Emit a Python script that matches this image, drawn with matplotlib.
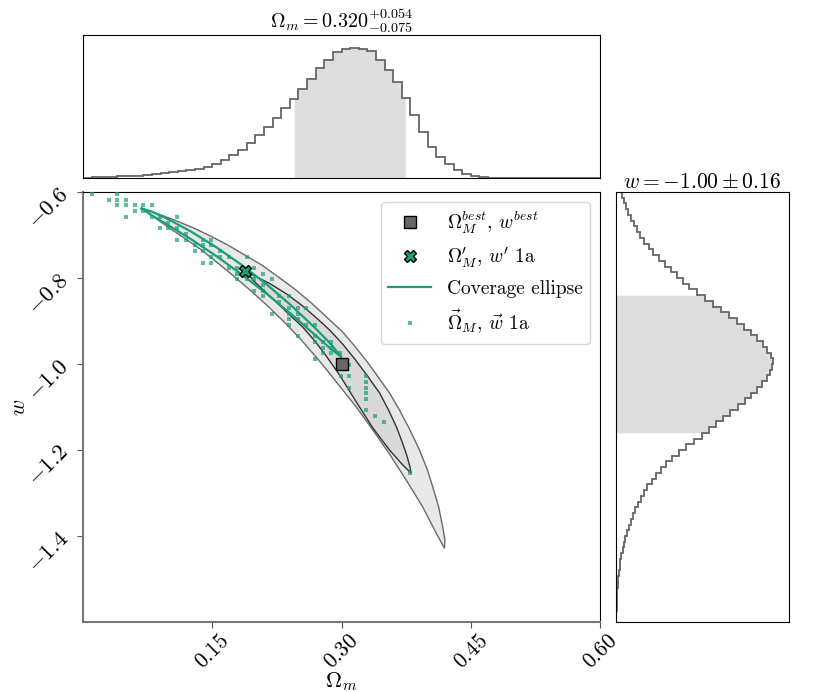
import numpy as np
import matplotlib
matplotlib.use('Agg')
import matplotlib.pyplot as plt
from matplotlib.lines import Line2D

plt.rcParams['mathtext.fontset'] = 'cm'
plt.rcParams['font.family'] = 'serif'
plt.rcParams['font.serif'] = ['cmr10', 'DejaVu Serif']
plt.rcParams['axes.formatter.use_mathtext'] = True

# ---------------- data ----------------
GREEN = '#1b9e77'

# top marginal histogram of Omega_m (60 bins on [0, 0.6])
om_edges_range = (0.0, 0.6)
om_nbins = 60
om_hist = [0.5, 0.8, 1.0, 1.3, 1.6, 2.0, 2.5, 3.2, 4.0, 4.8,
           5.7, 6.8, 8.0, 9.5, 11.5, 14.5, 18.5, 23, 28, 34.7,
           43, 51, 60, 70, 79, 89, 99, 110, 118, 126,
           129, 130.3, 129.7, 127, 118, 108, 96, 80, 63, 46,
           31, 21, 14, 8, 4, 2, 1, 0.5, 0.3, 0.1,
           0, 0, 0, 0, 0, 0, 0, 0, 0, 0]
om_best, om_plus, om_minus = 0.320, 0.054, 0.075

# right marginal histogram of w (75 bins on [-1.6, -0.6])
w_edges_range = (-1.6, -0.6)
w_nbins = 75
w_hist = [0.3, 0.4, 0.6, 0.8, 1.1, 1.5, 1.9, 2.4, 3.0, 3.6,
          4.5, 5.5, 6.6, 8.0, 9.4, 11.0, 12.8, 14.6, 16.7, 19.0,
          21.6, 24.6, 28, 31.5, 36, 40.5, 45, 50.5, 56.5, 63,
          70, 78, 86, 93, 100, 107, 114, 122, 129, 135,
          141, 146, 151, 154, 156.5, 157.3, 155, 151, 147, 141,
          135, 128, 121, 113, 105, 97, 89, 81, 73, 67,
          61, 55, 49, 43, 37.5, 33, 28.5, 24.5, 21, 18,
          15, 12.5, 10, 8, 6]
w_best, w_err = -1.00, 0.16

# 2D credible contours (outline): upper-right and lower-left edges
outer_up_om = [0.0680, 0.0892, 0.1101, 0.1298, 0.1491, 0.1680, 0.1877, 0.2074, 0.2260,
               0.2457, 0.2650, 0.2827, 0.3013, 0.3152, 0.3291, 0.3418, 0.3557, 0.3673,
               0.3789, 0.3905, 0.3998, 0.4059, 0.4125, 0.4175, 0.4200, 0.4195]
outer_up_w = [-0.6379, -0.6523, -0.6686, -0.6849, -0.7035, -0.7233, -0.7465, -0.7698, -0.7965,
              -0.8256, -0.8581, -0.8907, -0.9256, -0.9581, -0.9930, -1.0279, -1.0674, -1.1070,
              -1.1512, -1.2000, -1.2465, -1.2860, -1.3302, -1.3791, -1.4093, -1.4286]
outer_lo_om = [0.0680, 0.0776, 0.0985, 0.1182, 0.1375, 0.1564, 0.1761, 0.1958, 0.2144,
               0.2341, 0.2534, 0.2654, 0.2793, 0.2978, 0.3172, 0.3364, 0.3557, 0.3751,
               0.3943, 0.4098, 0.4195]
outer_lo_w = [-0.6379, -0.6512, -0.6814, -0.7081, -0.7349, -0.7651, -0.7977, -0.8314, -0.8651,
              -0.9035, -0.9442, -0.9721, -1.0047, -1.0512, -1.1000, -1.1535, -1.2093, -1.2698,
              -1.3326, -1.3930, -1.4286]

inner_up_om = [0.1900, 0.1970, 0.2167, 0.2364, 0.2549, 0.2723, 0.2862, 0.3013, 0.3163,
               0.3302, 0.3442, 0.3546, 0.3638, 0.3708, 0.3760, 0.3795, 0.3806]
inner_up_w = [-0.7849, -0.7930, -0.8128, -0.8372, -0.8651, -0.8953, -0.9209, -0.9535, -0.9907,
              -1.0279, -1.0674, -1.1070, -1.1465, -1.1837, -1.2140, -1.2395, -1.2535]
inner_lo_om = [0.1900, 0.1970, 0.2167, 0.2364, 0.2549, 0.2700, 0.2839, 0.2978, 0.3172,
               0.3364, 0.3557, 0.3711, 0.3806]
inner_lo_w = [-0.7849, -0.8047, -0.8419, -0.8791, -0.9140, -0.9488, -0.9860, -1.0256, -1.0884,
              -1.1488, -1.2000, -1.2349, -1.2535]

# coverage ellipse outline
ell_om = [0.0680, 0.0796, 0.0970, 0.1260, 0.1549, 0.1839, 0.2129, 0.2418, 0.2708, 0.2882, 0.2998]
ell_w_up = [-0.6384, -0.6455, -0.6614, -0.6927, -0.7287, -0.7693, -0.8143, -0.8641, -0.9190, -0.9551, -0.9836]
ell_w_lo = [-0.6384, -0.6541, -0.6747, -0.7106, -0.7493, -0.7913, -0.8363, -0.8844, -0.9350, -0.9659, -0.9836]

# best fit and primed point
best_om, best_w = 0.300, -1.000
prime_om, prime_w = 0.188, -0.783

# scattered points (Omega_M, w) 1a
pts_om = [0.010, 0.040,
          0.030, 0.040, 0.050,
          0.040, 0.050, 0.060, 0.070, 0.080,
          0.060, 0.070,
          0.050, 0.080, 0.089, 0.109,
          0.099,
          0.089, 0.099, 0.109,
          0.119,
          0.109, 0.119, 0.139, 0.149,
          0.130, 0.139, 0.149,
          0.130, 0.139, 0.159,
          0.149, 0.159, 0.169, 0.190,
          0.139, 0.149,
          0.169, 0.179, 0.199,
          0.179, 0.209,
          0.179, 0.190, 0.199, 0.219,
          0.209,
          0.199, 0.209,
          0.209, 0.228, 0.239,
          0.228,
          0.239, 0.249, 0.259,
          0.219, 0.239, 0.249,
          0.239, 0.249,
          0.239, 0.259, 0.269,
          0.249, 0.269,
          0.269, 0.279, 0.288,
          0.279, 0.288,
          0.279, 0.288, 0.298,
          0.269,
          0.309,
          0.299, 0.309, 0.329,
          0.329,
          0.309, 0.329,
          0.329, 0.329, 0.329,
          0.339, 0.349, 0.379]
pts_w = [-0.605, -0.605,
         -0.618, -0.618, -0.618,
         -0.631, -0.631, -0.631, -0.631, -0.631,
         -0.644, -0.644,
         -0.657, -0.657, -0.657, -0.657,
         -0.671,
         -0.684, -0.684, -0.684,
         -0.697,
         -0.711, -0.711, -0.711, -0.711,
         -0.724, -0.724, -0.724,
         -0.737, -0.737, -0.737,
         -0.750, -0.750, -0.750, -0.750,
         -0.764, -0.764,
         -0.777, -0.777, -0.777,
         -0.790, -0.790,
         -0.803, -0.803, -0.803, -0.803,
         -0.816,
         -0.830, -0.830,
         -0.843, -0.843, -0.843,
         -0.856,
         -0.869, -0.869, -0.869,
         -0.883, -0.883, -0.883,
         -0.896, -0.896,
         -0.909, -0.909, -0.909,
         -0.935, -0.935,
         -0.949, -0.949, -0.949,
         -0.962, -0.962,
         -0.975, -0.975, -0.975,
         -0.988,
         -1.002,
         -1.028, -1.028, -1.028,
         -1.041,
         -1.055, -1.055,
         -1.068, -1.081, -1.107,
         -1.121, -1.134, -1.253]

x_ticks = [0.15, 0.30, 0.45, 0.60]
y_ticks = [-0.6, -0.8, -1.0, -1.2, -1.4]

# ---------------- figure ----------------
W, H = 830, 692
fig = plt.figure(figsize=(W / 100, H / 100), dpi=100)

def rect(l, t, r, b):
    return [l / W, 1 - b / H, (r - l) / W, (b - t) / H]

ax = fig.add_axes(rect(83, 192, 600, 622))
ax_top = fig.add_axes(rect(83, 35, 600, 178))
ax_r = fig.add_axes(rect(616, 192, 789, 622))

HCOL = '#666666'
SHADE = '#dedede'

# top histogram
om_edges = np.linspace(*om_edges_range, om_nbins + 1)
om_h = np.array(om_hist, dtype=float)
lo, hi = om_best - om_minus, om_best + om_plus
xs = np.linspace(lo, hi, 600)
idx = np.clip(np.searchsorted(om_edges, xs, side='right') - 1, 0, om_nbins - 1)
ax_top.fill_between(xs, 0, om_h[idx], color=SHADE, lw=0)
ax_top.stairs(om_h, om_edges, color=HCOL, lw=1.3)
ax_top.set_xlim(*om_edges_range)
ax_top.set_ylim(0, 1.1 * om_h.max())
ax_top.set_xticks([]); ax_top.set_yticks([])
ax_top.set_title(r'$\Omega_m = %.3f^{+%.3f}_{-%.3f}$' % (om_best, om_plus, om_minus),
                 fontsize=14.5, pad=2)

# right histogram
w_edges = np.linspace(*w_edges_range, w_nbins + 1)
w_h = np.array(w_hist, dtype=float)
wlo, whi = w_best - w_err, w_best + w_err
ys = np.linspace(wlo, whi, 600)
idy = np.clip(np.searchsorted(w_edges, ys, side='right') - 1, 0, w_nbins - 1)
ax_r.fill_betweenx(ys, 0, w_h[idy], color=SHADE, lw=0)
ax_r.stairs(w_h, w_edges, orientation='horizontal', color=HCOL, lw=1.3)
ax_r.set_ylim(*w_edges_range)
ax_r.set_xlim(0, 1.1 * w_h.max())
ax_r.set_xticks([]); ax_r.set_yticks([])
ax_r.set_title(r'$w = %.2f \pm %.2f$' % (w_best, w_err), fontsize=15.5, pad=2)

# main panel: contours
outer_x = np.r_[outer_up_om, outer_lo_om[::-1]]
outer_y = np.r_[outer_up_w, outer_lo_w[::-1]]
ax.fill(outer_x, outer_y, facecolor='#e8e8e8', edgecolor='#6a6a6a', lw=1.0, zorder=1)
inner_x = np.r_[inner_up_om, inner_lo_om[::-1]]
inner_y = np.r_[inner_up_w, inner_lo_w[::-1]]
ax.fill(inner_x, inner_y, facecolor='#d9d9d9', edgecolor='#333333', lw=1.0, zorder=1.5)

# points
ax.plot(pts_om, pts_w, ls='none', marker='s', ms=3.0, mew=0, color=GREEN, alpha=0.7, zorder=3)

# coverage ellipse
ex = np.r_[ell_om, ell_om[::-1]]
ey = np.r_[ell_w_up, ell_w_lo[::-1]]
ax.plot(ex, ey, color=GREEN, lw=1.6, zorder=4)

# markers
ax.plot([best_om], [best_w], ls='none', marker='s', ms=8, mfc='#666666', mec='k', mew=1.0, zorder=5)
ax.plot([prime_om], [prime_w], ls='none', marker='X', ms=9, mfc=GREEN, mec='k', mew=1.0, zorder=5)

ax.set_xlim(*om_edges_range)
ax.set_ylim(*w_edges_range)
ax.set_xticks(x_ticks)
ax.set_xticklabels([r'$%.2f$' % v for v in x_ticks], rotation=45, fontsize=15.5)
ax.set_yticks(y_ticks)
ax.set_yticklabels([r'$%.1f$' % v for v in y_ticks], rotation=45, fontsize=16.5)
ax.set_xlabel(r'$\Omega_m$', fontsize=16)
ax.set_ylabel(r'$w$', fontsize=16)
ax.xaxis.set_label_coords(0.5, -0.112)
ax.yaxis.set_label_coords(-0.105, 0.5)
for s in ('left', 'bottom'):
    ax.spines[s].set_color('#777777')
    ax.spines[s].set_linewidth(1.5)
ax.tick_params(colors='#555555', labelcolor='k', length=4)
ax.tick_params(axis='x', pad=2)

handles = [
    Line2D([], [], ls='none', marker='s', ms=8, mfc='#666666', mec='k', mew=1.0),
    Line2D([], [], ls='none', marker='X', ms=9, mfc=GREEN, mec='k', mew=1.0),
    Line2D([], [], color=GREEN, lw=1.6),
    Line2D([], [], ls='none', marker='s', ms=3.0, mew=0, color=GREEN, alpha=0.7),
]
labels = [r'$\Omega_M^{best}$, $w^{best}$',
          r"$\Omega^{\prime}_{M}$, $w'$ 1a",
          'Coverage ellipse',
          r'$\vec{\Omega}_M$, $\vec{w}$ 1a']
ax.legend(handles, labels, loc='upper right', fontsize=14, handlelength=2.2)

fig.savefig('out.png', dpi=100)
